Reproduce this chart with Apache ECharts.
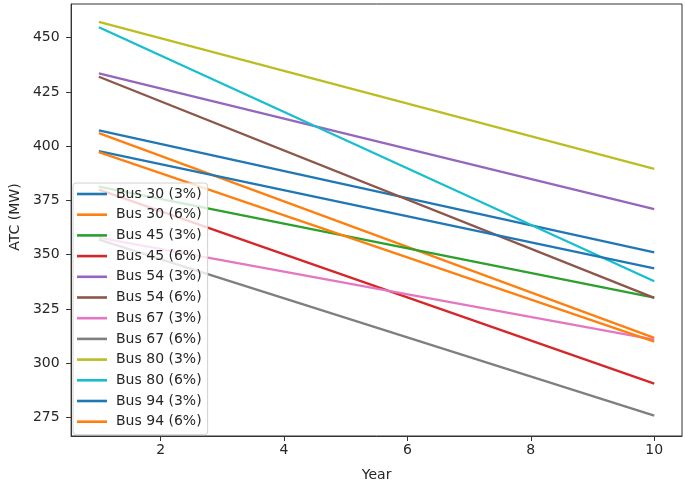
<!DOCTYPE html>
<html>
<head>
<meta charset="utf-8">
<script src="https://cdn.jsdelivr.net/npm/echarts@6/dist/echarts.min.js"></script>
<style>
html,body{margin:0;padding:0;background:#fff;}
#chart{width:685px;height:487px;}
</style>
</head>
<body>
<div id="chart"></div>
<script>
const years = [1, 10];
const seriesNames = ["Bus 30 (3%)","Bus 30 (6%)","Bus 45 (3%)","Bus 45 (6%)","Bus 54 (3%)","Bus 54 (6%)","Bus 67 (3%)","Bus 67 (6%)","Bus 80 (3%)","Bus 80 (6%)","Bus 94 (3%)","Bus 94 (6%)"];
const bus30_3 = [407.3, 351.1];
const bus30_6 = [406.0, 311.7];
const bus45_3 = [381.4, 330.2];
const bus45_6 = [380.0, 290.6];
const bus54_3 = [433.5, 371.0];
const bus54_6 = [432.0, 330.1];
const bus67_3 = [357.9, 310.9];
const bus67_6 = [357.0, 275.9];
const bus80_3 = [457.3, 389.5];
const bus80_6 = [454.8, 337.8];
const bus94_3 = [397.7, 343.7];
const bus94_6 = [397.3, 310.0];
const seriesValues = [bus30_3, bus30_6, bus45_3, bus45_6, bus54_3, bus54_6, bus67_3, bus67_6, bus80_3, bus80_6, bus94_3, bus94_6];
const xTicks = [2, 4, 6, 8, 10];
const yTicks = [275, 300, 325, 350, 375, 400, 425, 450];
const colors = ['#1f77b4','#ff7f0e','#2ca02c','#d62728','#9467bd','#8c564b','#e377c2','#7f7f7f','#bcbd22','#17becf','#1f77b4','#ff7f0e'];

const font = 'DejaVu Sans';
const txt = '#262626';
const chart = echarts.init(document.getElementById('chart'), null, {renderer:'canvas'});
chart.setOption({
  animation: false,
  backgroundColor: '#fff',
  color: colors,
  grid: {left: 64, right: 3, top: 4, bottom: 45, show: true, borderColor: '#333', borderWidth: 1, backgroundColor: 'transparent'},
  xAxis: {
    type: 'value', min: 0.55, max: 10.45,
    name: 'Year', nameLocation: 'middle', nameGap: 32,
    nameTextStyle: {fontFamily: font, fontSize: 14, color: txt},
    axisLine: {show: true, onZero: false, lineStyle: {color: '#333', width: 1}},
    axisTick: {show: true, inside: false, length: 5, customValues: xTicks, lineStyle: {color: '#333'}},
    axisLabel: {customValues: xTicks, margin: 7, fontFamily: font, fontSize: 14, color: txt},
    splitLine: {show: false}
  },
  yAxis: {
    type: 'value', min: 266.5, max: 465.5,
    name: 'ATC (MW)', nameLocation: 'middle', nameGap: 47, nameRotate: 90,
    nameTextStyle: {fontFamily: font, fontSize: 14, color: txt, padding: [0, 0, 0, 6]},
    axisLine: {show: true, onZero: false, lineStyle: {color: '#333', width: 1}},
    axisTick: {show: true, inside: false, length: 5, customValues: yTicks, lineStyle: {color: '#333'}},
    axisLabel: {customValues: yTicks, margin: 11.5, fontFamily: font, fontSize: 14, color: txt},
    splitLine: {show: false}
  },
  legend: {
    orient: 'vertical', left: 73, top: 183,
    icon: 'rect',
    itemWidth: 30, itemHeight: 2.6, itemGap: 6.7,
    padding: [4, 6, 6, 4],
    backgroundColor: 'rgba(255,255,255,0.8)', borderColor: '#d0d0d0', borderWidth: 1, borderRadius: 3,
    textStyle: {fontFamily: font, fontSize: 14, lineHeight: 14, height: 14, color: txt, padding: [0, 0, 0, 4]},
    data: seriesNames
  },
  series: seriesNames.map((n, i) => ({
    name: n, type: 'line', symbol: 'none', showSymbol: false,
    lineStyle: {width: 2.3, color: colors[i]}, itemStyle: {color: colors[i]},
    data: years.map((y, j) => [y, seriesValues[i][j]])
  }))
});
</script>
</body>
</html>
